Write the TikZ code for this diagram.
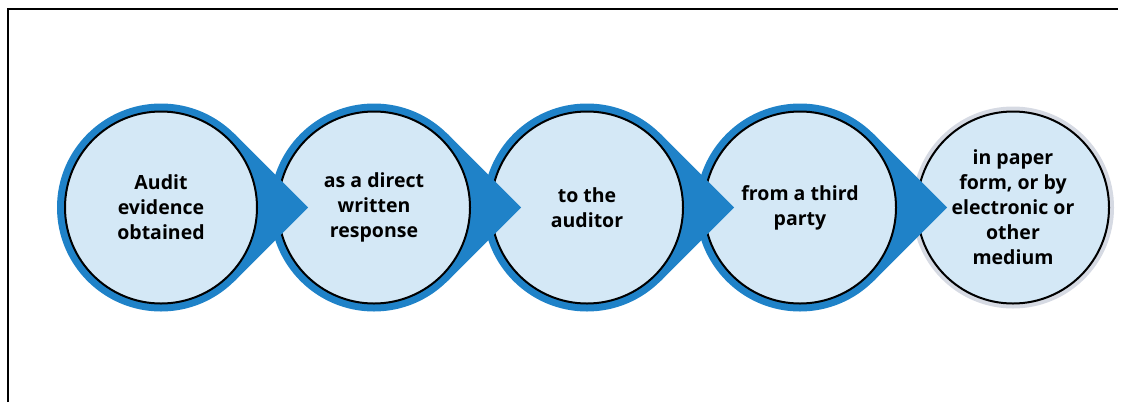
\documentclass[tikz,border=0pt]{standalone}
\usepackage{fontspec}
\setmainfont{Open Sans}
\definecolor{ringblue}{HTML}{1F82C8}
\definecolor{lightfill}{HTML}{D4E8F6}
\definecolor{ringgray}{HTML}{D6DAE3}
\begin{document}
\begin{tikzpicture}[x=1pt,y=-1pt,
  stage/.style={circle, draw=black, line width=2pt, fill=lightfill, minimum size=192pt,
    inner sep=0pt, align=center, font=\fontsize{19.5}{25}\selectfont\bfseries},
  frameline/.style={line width=2pt, black}]
\useasboundingbox (0,0) rectangle (1123,402);
\draw[frameline] (8,402) -- (8,9) -- (1118,9);
\def\cy{207.5}
% element 5 (last, gray ring)
\fill[ringgray] (1013,\cy) circle[radius=101pt];
\node[stage] (e5) at (1013,\cy) {in paper\\form, or by\\electronic or\\other\\medium};
% elements 4..1 with arrow shapes
\foreach \cx/\nm/\txt in {800/e4/{from a third\\party}, 587/e3/{to the\\auditor}, 374/e2/{as a direct\\written\\response}, 161/e1/{Audit\\evidence\\obtained}}{
  \fill[ringblue] (\cx,\cy) circle[radius=104pt];
  \fill[ringblue] (\cx,\cy) -- (\cx+73.5,\cy-73.5) -- (\cx+147.1,\cy) -- (\cx+73.5,\cy+73.5) -- cycle;
  \node[stage] (\nm) at (\cx,\cy) {\txt};
}
\end{tikzpicture}
\end{document}
